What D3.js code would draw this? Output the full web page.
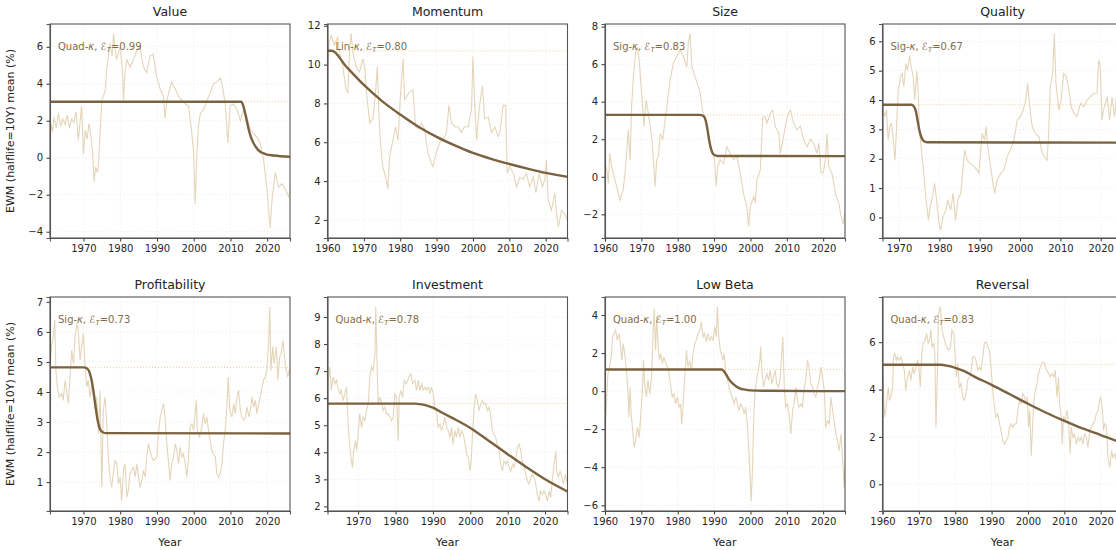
<!DOCTYPE html>
<html>
<head>
<meta charset="utf-8">
<script src="https://cdn.jsdelivr.net/npm/d3@7"></script>
<style>
  body { margin: 0; background: #fff; }
  svg { font-family: "DejaVu Sans", sans-serif; }
  .axis { font-family: "DejaVu Sans", sans-serif; }
  .axis path { stroke: #555; stroke-width: 1.1; }
  .axis line { stroke: #333; }
  .axis text { fill: #262626; font-size: 10px; }
  .grid line { stroke: #ebebeb; stroke-width: 0.7; stroke-dasharray: 1.5,2; }
</style>
</head>
<body>
<div id="chart"></div>
<script>

// ---- data: [year, EWM mean %] ----
const valueRaw = [[1960.9,1.0],[1961.2,1.8],[1961.6,1.4],[1962,2.2],[1962.6,1.6],[1963.2,2.4],[1963.8,1.7],[1964.4,2.1],[1965,1.8],[1965.6,2.3],[1966.2,1.6],[1966.8,2.1],[1967.4,1.9],[1968,2.5],[1968.6,0.95],[1969.5,2.8],[1970,0.2],[1970.5,1.5],[1971,1.0],[1971.5,1.85],[1972,1.2],[1972.5,0.3],[1972.9,-1.3],[1973.3,-0.5],[1973.8,-0.8],[1974.1,-0.3],[1975,3.1],[1975.9,3.6],[1976.3,4.7],[1977.2,6.2],[1977.8,5.5],[1978.2,6.7],[1978.6,5.9],[1979,5.3],[1980,6.0],[1980.6,4.8],[1980.9,3.1],[1981.3,4.6],[1981.8,5.3],[1982.7,4.9],[1983.6,5.3],[1984.5,5.8],[1985.4,6.0],[1986.3,4.9],[1987.2,4.6],[1988.1,5.5],[1989,5.6],[1989.9,4.4],[1990.9,3.7],[1991.8,3.3],[1992.2,2.1],[1992.7,3.1],[1993.6,3.8],[1994,4.1],[1995,3.7],[1995.9,3.3],[1996.8,3.1],[1997.7,2.9],[1998.6,2.8],[1999.5,1.3],[2000,0.2],[2000.4,-2.5],[2000.9,0.4],[2001.3,1.7],[2001.8,2.4],[2002.7,2.6],[2003.6,3.1],[2004.5,3.5],[2005.4,4.0],[2006.3,4.1],[2007.2,4.3],[2007.7,4.0],[2008.6,2.9],[2009.3,0.8],[2009.9,2.8],[2010.8,2.9],[2011.8,2.6],[2012.7,2.0],[2013.6,2.6],[2014.5,2.2],[2015.4,1.5],[2016.3,1.3],[2017.2,1.1],[2018.1,0.8],[2019,-0.1],[2019.9,-1.6],[2020.4,-2.8],[2020.8,-3.8],[2021.3,-2.3],[2022.2,-0.8],[2023.1,-1.6],[2024,-1.4],[2024.9,-1.7],[2025.8,-2.1],[2026.2,-1.8]];
const valueFit = [[1960.9,3.03],[2012.9,3.03],[2013.5,2.8],[2014,2.4],[2014.5,1.95],[2015,1.5],[2015.5,1.15],[2016.3,0.78],[2017,0.55],[2018.1,0.32],[2019.5,0.2],[2021.8,0.12],[2026.2,0.05]];

const momentumRaw = [[1960,9.7],[1960.4,11.1],[1961,11.5],[1961.9,11.0],[1962.8,11.4],[1963.3,10.6],[1964.2,9.9],[1965.1,8.7],[1965.6,8.55],[1966,10.6],[1966.5,11.6],[1967,10.6],[1967.9,9.9],[1968.8,9.6],[1969.7,10.3],[1970.2,9.9],[1970.8,8.4],[1971.6,7.0],[1972.5,7.2],[1973.2,8.55],[1973.7,9.9],[1974.1,7.7],[1974.5,6.1],[1975.2,4.75],[1976,4.2],[1976.6,3.6],[1977.1,5.3],[1978,6.1],[1978.7,6.8],[1979.4,6.1],[1980,8.2],[1980.8,10.3],[1981.2,8.2],[1981.9,8.4],[1982.6,8.6],[1983.5,8.7],[1984.2,6.8],[1984.9,6.7],[1985.8,7.0],[1986.7,6.7],[1987.6,5.45],[1988.6,4.9],[1989,4.75],[1989.9,5.45],[1990.9,6.0],[1991.8,6.1],[1992.7,6.5],[1993.4,7.9],[1994.1,7.0],[1995,6.8],[1995.9,6.8],[1996.8,6.5],[1997.7,6.8],[1998.7,6.8],[1999.6,7.7],[2000,10.4],[2000.5,7.9],[2001,6.1],[2001.7,7.7],[2002.6,8.9],[2003.2,7.2],[2004.2,7.3],[2005.1,6.5],[2006,6.8],[2006.9,6.3],[2007.4,6.5],[2008.3,7.9],[2009,7.9],[2009.4,4.4],[2010.1,4.75],[2011.1,4.4],[2012,3.7],[2012.9,4.2],[2013.8,4.1],[2014.7,4.4],[2015.6,3.7],[2016.6,4.2],[2017.3,3.4],[2018.2,4.4],[2019.1,3.7],[2019.8,4.1],[2020.2,5.1],[2020.7,3.0],[2021.6,2.5],[2022.5,3.4],[2023,2.3],[2023.5,1.65],[2024.4,2.5],[2025.3,2.3],[2026,2.0]];
const momentumFit = [[1960,10.71],[1961.2,10.71],[1965,9.93],[1970,8.95],[1975,8.12],[1980,7.43],[1985,6.8],[1990,6.28],[1995,5.84],[2000,5.45],[2005,5.14],[2010,4.88],[2015,4.64],[2020,4.42],[2026,4.22]];

const sizeRaw = [[1960,0.7],[1960.5,0.35],[1960.9,-0.35],[1961.3,1.25],[1961.8,0.55],[1962.8,-0.2],[1963.7,-0.9],[1964.1,-1.25],[1965,-0.7],[1965.5,0.2],[1966,1.4],[1966.4,2.5],[1966.9,0.9],[1967.3,3.7],[1967.8,5.3],[1968.4,6.6],[1968.9,6.9],[1969.4,6.2],[1969.8,5.15],[1970.4,3.7],[1970.7,2.7],[1971.3,4.1],[1971.9,3.4],[1972.4,2.7],[1972.9,2.0],[1973.3,0.9],[1973.8,-0.5],[1974.2,0.9],[1974.7,1.1],[1975.2,2.3],[1975.9,2.0],[1976.5,3.0],[1977,3.7],[1977.9,5.15],[1978.8,6.05],[1979.7,6.4],[1980.7,6.75],[1981.6,6.4],[1982.5,5.85],[1982.9,7.1],[1983.4,7.65],[1983.9,5.85],[1984.5,5.5],[1985.3,5.0],[1986.2,4.45],[1986.8,3.55],[1987.5,3.0],[1988.2,2.5],[1988.9,1.8],[1989.7,1.25],[1990.1,0.9],[1990.6,-0.5],[1991,0.55],[1991.7,0.9],[1992.6,0.7],[1993.5,1.6],[1994.4,1.25],[1995.4,0.9],[1996.3,1.1],[1997.2,0.2],[1998.1,-0.9],[1999,-1.6],[1999.5,-2.65],[1999.9,-1.6],[2000.9,-1.05],[2001.3,-1.4],[2001.8,-0.15],[2002.7,0.35],[2003.4,3.2],[2004.1,3.2],[2004.5,2.85],[2005.5,3.4],[2006.1,3.55],[2006.8,2.7],[2007.8,2.3],[2008.2,1.25],[2009.1,2.15],[2009.9,3.0],[2010.5,3.4],[2011,3.55],[2011.9,2.85],[2012.8,2.5],[2013.7,2.7],[2014.6,2.0],[2015.6,1.6],[2016.5,2.0],[2017.4,1.8],[2018.3,1.25],[2018.8,1.8],[2019.4,0.2],[2020,0.2],[2020.6,0.9],[2021.1,2.3],[2021.5,0.55],[2022.4,0.2],[2023.4,-0.9],[2024.3,-1.4],[2024.9,-2.1],[2025.5,-2.5],[2026,-1.95]];
const sizeFit = [[1960,3.3],[1986,3.3],[1987,3.25],[1987.7,3.0],[1988.2,2.5],[1988.6,2.0],[1989,1.6],[1989.5,1.3],[1990,1.17],[1991,1.11],[2026,1.1]];

const qualityRaw = [[1965.9,3.77],[1966.4,3.43],[1966.9,3.66],[1967.3,2.64],[1967.7,3.1],[1968.1,3.2],[1968.5,2.75],[1969,1.95],[1969.4,3.1],[1969.8,4.34],[1970.4,4.8],[1970.8,4.9],[1971.2,4.45],[1971.7,5.25],[1972.1,5.0],[1972.6,5.5],[1973.1,5.1],[1973.5,4.8],[1973.9,4.0],[1974.4,5.0],[1974.7,4.45],[1975.1,2.86],[1975.5,2.4],[1976,1.73],[1976.4,1.05],[1976.8,0.48],[1977.3,-0.1],[1977.7,0.36],[1978.3,0.7],[1978.8,1.16],[1979.3,0.6],[1979.9,-0.2],[1980.3,-0.43],[1980.9,0.02],[1981.6,0.25],[1982.1,0.6],[1982.8,0.25],[1983.4,0.82],[1984,-0.1],[1984.6,0.6],[1985.3,0.82],[1985.9,1.73],[1986.3,2.3],[1986.9,1.95],[1987.7,1.84],[1988.6,1.73],[1989.4,1.61],[1989.8,1.5],[1990.6,2.86],[1991.2,2.64],[1991.6,3.1],[1992,2.41],[1992.7,1.73],[1993.4,1.05],[1993.7,0.82],[1994.3,1.27],[1995.2,1.5],[1996,1.61],[1996.8,2.07],[1997.6,2.3],[1998.5,2.64],[1999.3,3.32],[2000.1,3.43],[2000.8,3.66],[2001.4,4.0],[2001.9,4.57],[2002.4,3.77],[2003,3.1],[2003.8,2.86],[2004.7,2.75],[2005.5,2.18],[2006.1,2.07],[2006.7,1.95],[2007.1,2.86],[2007.5,4.45],[2008.1,4.9],[2008.5,6.27],[2008.9,4.57],[2009.6,3.66],[2010.2,4.0],[2010.8,4.9],[2011.5,4.8],[2012.1,4.34],[2012.7,3.77],[2013.3,3.55],[2014.1,3.43],[2015,3.89],[2015.8,3.77],[2016.6,4.0],[2017.4,4.11],[2018.3,4.23],[2019.1,4.23],[2019.5,5.36],[2019.9,5.14],[2020.3,3.32],[2020.7,3.66],[2021.6,4.11],[2022.2,3.32],[2022.8,4.11],[2023.4,3.43],[2023.9,4.11],[2024.5,3.8],[2025.4,3.6]];
const qualityFit = [[1965.9,3.84],[1973,3.84],[1973.7,3.78],[1974.2,3.6],[1974.6,3.3],[1975,3.0],[1975.5,2.75],[1976,2.62],[1977,2.56],[2025.4,2.55]];

const profitabilityRaw = [[1961,5.05],[1961.3,5.5],[1961.8,5.83],[1962.2,6.4],[1962.5,4.72],[1962.9,4.17],[1963.4,3.83],[1964.1,3.94],[1964.5,3.72],[1965,4.39],[1965.4,4.06],[1965.9,3.61],[1966.3,4.39],[1966.8,5.39],[1967.3,4.94],[1967.7,5.83],[1968.2,6.28],[1968.6,6.06],[1969.1,5.06],[1969.5,5.5],[1970,5.94],[1970.4,4.94],[1970.9,4.17],[1971.3,4.39],[1971.8,3.83],[1972.3,4.28],[1972.7,4.06],[1973.2,3.39],[1973.6,3.83],[1974.1,2.61],[1974.5,4.06],[1975,0.83],[1975.4,3.39],[1975.9,3.83],[1976.3,3.06],[1976.8,1.83],[1977.2,1.17],[1977.7,0.83],[1978.2,1.39],[1978.6,1.72],[1979.1,1.61],[1979.5,0.94],[1980,1.17],[1980.4,0.39],[1980.9,1.39],[1981.3,1.61],[1981.8,0.5],[1982.2,0.72],[1982.7,1.28],[1983.1,1.39],[1983.6,1.5],[1984.1,1.17],[1984.5,1.61],[1985,1.17],[1985.4,0.83],[1985.9,1.06],[1986.3,1.39],[1986.8,1.17],[1987.2,1.83],[1987.7,2.28],[1988.1,2.06],[1988.6,1.83],[1989.1,1.72],[1990,1.83],[1990.4,2.61],[1990.9,3.17],[1991.3,3.39],[1991.8,3.61],[1992.2,3.17],[1992.7,2.28],[1993.1,1.72],[1993.6,1.06],[1994,1.61],[1994.5,1.83],[1995,2.28],[1995.4,2.06],[1995.9,1.61],[1996.3,2.17],[1996.8,1.83],[1997.2,1.94],[1997.7,1.61],[1998.1,1.17],[1998.6,1.83],[1999,2.83],[1999.5,2.94],[2000,2.72],[2000.4,3.28],[2000.7,3.72],[2001,2.72],[2001.6,2.5],[2002.2,2.83],[2002.7,3.28],[2003.1,2.94],[2003.6,3.17],[2004,2.72],[2004.5,2.39],[2004.9,2.06],[2005.4,1.94],[2005.9,1.83],[2006.3,1.28],[2006.8,1.17],[2007.2,1.28],[2007.7,1.61],[2008.1,2.28],[2008.6,2.72],[2009,3.5],[2009.4,4.5],[2009.8,3.39],[2010.4,3.17],[2010.9,3.61],[2011.3,3.28],[2011.8,3.83],[2012.2,4.06],[2012.7,3.39],[2013.1,3.17],[2013.6,3.06],[2014.1,3.17],[2014.5,3.5],[2015,3.17],[2015.4,3.39],[2015.9,3.83],[2016.3,3.5],[2016.8,3.72],[2017.2,3.28],[2017.7,3.61],[2018.1,3.83],[2018.6,4.17],[2019,4.39],[2019.5,4.5],[2019.9,4.72],[2020.4,5.61],[2020.7,6.83],[2021,4.72],[2021.5,5.5],[2021.9,4.94],[2022.5,5.5],[2022.9,4.39],[2023.4,5.17],[2023.8,5.28],[2024.3,5.72],[2024.7,5.17],[2025.2,4.72],[2025.6,4.5],[2026.2,4.83]];
const profitabilityFit = [[1960.9,4.82],[1970,4.82],[1971,4.78],[1971.8,4.6],[1972.5,4.2],[1973.2,3.6],[1973.8,3.1],[1974.4,2.8],[1975,2.68],[1976,2.63],[2026.2,2.62]];

const investmentRaw = [[1961.8,4.92],[1962,6.66],[1962.4,7.15],[1962.8,6.29],[1963.3,6.78],[1963.8,6.53],[1964.2,6.66],[1964.6,6.41],[1965.1,6.16],[1965.5,6.29],[1966,5.91],[1966.4,6.16],[1966.9,6.41],[1967.3,5.05],[1967.8,4.18],[1968.2,3.68],[1968.5,3.44],[1968.8,4.06],[1969.3,4.43],[1969.6,4.06],[1970,4.68],[1970.4,5.42],[1970.9,4.92],[1971.3,5.3],[1971.8,5.17],[1972.2,5.54],[1972.7,5.79],[1973.1,6.78],[1973.6,7.15],[1974,7.03],[1974.5,7.65],[1974.7,9.38],[1975.1,7.03],[1975.4,5.79],[1975.8,6.04],[1976.3,5.79],[1976.7,5.54],[1977.1,5.67],[1977.6,5.42],[1978,5.42],[1978.5,5.3],[1978.9,5.17],[1979.4,5.3],[1979.8,6.16],[1980.3,6.04],[1980.7,4.43],[1981,6.04],[1981.4,6.29],[1981.9,6.04],[1982.3,6.66],[1982.9,6.53],[1983.6,6.78],[1984.1,6.91],[1984.6,6.53],[1985.2,6.66],[1985.6,6.29],[1986.1,6.66],[1986.5,6.29],[1987,6.53],[1987.4,6.29],[1987.9,6.41],[1988.3,6.29],[1988.8,6.41],[1989.2,6.16],[1989.6,6.41],[1990.1,6.16],[1990.5,5.67],[1991,5.42],[1991.4,4.92],[1991.9,5.05],[1992.3,4.8],[1992.8,5.05],[1993.2,5.3],[1993.7,4.92],[1994.1,4.8],[1994.6,4.55],[1995,4.92],[1995.4,4.3],[1995.9,4.8],[1996.3,4.55],[1996.8,4.92],[1997.2,4.55],[1997.7,4.8],[1998.1,4.68],[1998.6,4.3],[1999,3.93],[1999.5,3.81],[1999.9,3.31],[2000.2,3.56],[2000.6,4.68],[2001.1,5.79],[2001.4,6.16],[2001.9,5.91],[2002.3,5.54],[2002.8,5.79],[2003.2,5.91],[2003.7,5.79],[2004.1,5.79],[2004.6,5.54],[2005,5.67],[2005.4,5.42],[2005.9,4.8],[2006.3,4.68],[2006.8,4.55],[2007.2,4.3],[2007.7,4.06],[2008.1,3.56],[2008.6,3.31],[2009,3.68],[2009.5,3.56],[2009.9,3.68],[2010.4,3.44],[2010.8,3.31],[2011.3,3.56],[2011.7,3.44],[2012.1,3.68],[2012.6,4.18],[2013,4.3],[2013.5,4.06],[2013.9,3.68],[2014.4,3.44],[2014.8,3.19],[2015.3,2.94],[2015.7,2.82],[2016.2,3.06],[2016.6,3.19],[2017.1,3.06],[2017.5,2.82],[2017.9,2.44],[2018.4,2.2],[2018.8,2.57],[2019.3,2.44],[2019.7,2.57],[2020.2,2.44],[2020.6,2.2],[2021.1,2.57],[2021.5,2.32],[2022,3.06],[2022.4,3.56],[2022.9,4.06],[2023.1,3.31],[2023.6,3.06],[2024,3.31],[2024.5,3.06],[2024.9,2.82],[2025.4,3.19],[2026,2.82]];
const investmentFit = [[1961.8,5.8],[1985,5.8],[1987,5.77],[1989,5.7],[1990,5.65],[1992,5.5],[1995,5.28],[2000,4.9],[2005,4.42],[2010,3.93],[2015,3.45],[2020,3.0],[2026,2.55]];

const lowBetaRaw = [[1960,-2.07],[1960.5,-0.31],[1960.8,0.92],[1961.3,1.27],[1961.7,1.8],[1962.1,2.86],[1962.5,3.03],[1962.9,3.21],[1963.4,2.68],[1963.9,3.03],[1964.3,2.33],[1964.6,1.62],[1965,2.5],[1965.4,1.98],[1965.9,1.1],[1966.3,0.04],[1966.6,-1.37],[1966.9,0.21],[1967.2,-1.19],[1967.7,-2.25],[1968,-2.95],[1968.4,-2.6],[1968.9,-1.9],[1969.4,-2.43],[1969.8,-1.37],[1970.3,0.04],[1970.6,1.62],[1970.9,0.39],[1971.4,-0.31],[1971.8,0.57],[1972.3,-0.14],[1972.8,0.74],[1973.2,2.86],[1973.5,4.35],[1973.9,2.15],[1974.2,3.91],[1974.6,2.33],[1975,1.62],[1975.3,1.98],[1975.8,1.45],[1976.2,1.8],[1976.7,1.45],[1977.2,1.27],[1977.6,0.92],[1978.1,0.21],[1978.5,-0.31],[1979,-0.14],[1979.4,-0.67],[1979.9,-0.31],[1980.4,-0.84],[1980.8,-0.67],[1981.1,-1.72],[1981.5,-0.67],[1981.9,0.57],[1982.4,2.15],[1982.8,1.27],[1983.3,1.62],[1983.8,1.1],[1984.2,1.98],[1984.7,2.5],[1985.1,2.68],[1985.6,3.03],[1986.1,3.21],[1986.5,3.65],[1987,2.86],[1987.4,3.03],[1987.9,2.59],[1988.3,3.03],[1988.8,2.68],[1989.3,2.86],[1989.7,2.68],[1990.2,3.38],[1990.6,2.86],[1990.9,4.44],[1991.3,2.86],[1991.7,2.15],[1992,1.98],[1992.4,1.62],[1992.8,1.98],[1993.2,0.92],[1993.7,0.57],[1994.1,0.21],[1994.6,-0.14],[1995,-0.31],[1995.5,-0.67],[1996,-0.31],[1996.4,-0.67],[1996.9,-1.02],[1997.3,-0.67],[1997.8,-0.84],[1998.3,-1.19],[1998.7,-0.84],[1999.2,-1.9],[1999.6,-3.31],[1999.9,-4.54],[2000.2,-5.77],[2000.6,-3.83],[2000.8,-2.07],[2001.2,-0.14],[2001.7,0.57],[2002.1,1.1],[2002.6,1.62],[2002.8,2.33],[2003.2,0.92],[2003.6,0.21],[2004,0.57],[2004.5,0.92],[2005,0.57],[2005.4,1.1],[2005.9,0.39],[2006.3,0.74],[2006.8,1.1],[2007.2,0.39],[2007.7,0.21],[2008.2,0.74],[2008.5,1.62],[2008.9,2.86],[2009.3,0.21],[2009.7,-0.84],[2010.2,-0.67],[2010.6,-1.19],[2011.1,-2.25],[2011.6,-1.02],[2012,-0.67],[2012.5,0.21],[2012.9,-0.49],[2013.4,-0.84],[2013.9,-0.67],[2014.3,-0.84],[2014.8,0.21],[2015.2,0.57],[2015.7,1.62],[2016.1,1.27],[2016.6,0.39],[2017.1,0.21],[2017.5,-0.14],[2018,-0.31],[2018.4,0.21],[2018.9,0.57],[2019.4,1.27],[2019.8,0.74],[2020.3,0.04],[2020.7,-1.9],[2021.2,-1.55],[2021.7,-1.72],[2022.1,-0.31],[2022.6,-1.02],[2023,-1.55],[2023.5,-2.25],[2023.9,-2.6],[2024.4,-3.13],[2024.9,-2.25],[2025.3,-3.48],[2025.8,-5.07],[2026,-4.0]];
const lowBetaFit = [[1960,1.14],[1992.1,1.14],[1992.7,1.05],[1993.3,0.88],[1994,0.65],[1995,0.42],[1996,0.26],[1997,0.15],[1998.5,0.08],[2000,0.04],[2005,0.02],[2026,0.0]];

const reversalRaw = [[1960.1,4.81],[1960.4,3.54],[1960.6,2.83],[1960.9,3.11],[1961.2,3.54],[1961.6,4.1],[1961.9,3.54],[1962.3,3.68],[1962.8,4.1],[1963,5.38],[1963.4,5.52],[1963.8,5.24],[1964.1,5.38],[1964.6,5.24],[1965.1,5.38],[1965.5,5.1],[1966,4.81],[1966.4,3.96],[1966.9,4.53],[1967.4,4.81],[1967.8,4.39],[1968.3,4.95],[1968.7,4.67],[1969.2,4.95],[1969.7,5.24],[1970.1,4.81],[1970.4,4.1],[1970.8,5.52],[1971.2,5.94],[1971.7,6.08],[1972.1,6.37],[1972.6,5.94],[1973.1,6.23],[1973.3,6.51],[1973.6,5.8],[1974.1,5.94],[1974.4,5.52],[1974.7,2.41],[1975.1,4.81],[1975.4,7.22],[1975.9,7.5],[1976.4,6.51],[1976.8,6.23],[1977.3,5.94],[1977.7,5.8],[1978.2,5.66],[1978.7,5.8],[1979.1,6.51],[1979.6,6.37],[1980,5.38],[1980.3,4.53],[1980.7,5.1],[1981.1,4.1],[1981.6,4.25],[1982.1,3.68],[1982.5,3.54],[1983,3.82],[1983.4,4.39],[1983.9,4.53],[1984.4,4.81],[1984.8,5.38],[1985.3,5.38],[1985.7,5.24],[1986.2,4.81],[1986.7,4.95],[1987.1,4.81],[1987.6,5.38],[1988,5.94],[1988.5,6.01],[1989,5.8],[1989.4,5.66],[1989.9,4.81],[1990.3,3.96],[1990.8,3.26],[1991.2,2.83],[1991.7,2.97],[1992.2,2.55],[1992.6,2.27],[1993.1,1.84],[1993.5,1.7],[1994,1.84],[1994.5,1.98],[1994.9,2.41],[1995.4,2.55],[1995.8,2.41],[1996.3,2.55],[1996.8,2.55],[1997.2,3.11],[1997.7,3.54],[1998.1,3.4],[1998.6,3.82],[1999.1,3.68],[1999.5,3.4],[1999.8,3.68],[2000.2,2.41],[2000.5,3.11],[2000.9,1.2],[2001.3,2.55],[2001.6,3.4],[2002,3.96],[2002.5,4.25],[2002.9,4.67],[2003.4,4.95],[2003.8,5.1],[2004.3,5.17],[2004.8,4.95],[2005.2,4.81],[2005.7,4.67],[2006.1,4.53],[2006.6,4.67],[2007.1,4.53],[2007.5,4.81],[2008,3.68],[2008.4,4.53],[2008.7,3.4],[2009.2,2.83],[2009.4,1.7],[2009.8,2.83],[2010.3,2.69],[2010.7,3.11],[2011.2,2.55],[2011.6,1.28],[2011.9,2.41],[2012.4,1.98],[2012.8,2.12],[2013.3,1.7],[2013.8,1.98],[2014.2,1.84],[2014.7,1.98],[2015.1,1.7],[2015.6,2.12],[2016.1,1.98],[2016.5,1.56],[2017,2.27],[2017.4,2.41],[2017.9,2.55],[2018.4,2.69],[2018.8,2.97],[2019.3,3.11],[2019.7,3.54],[2020,3.68],[2020.4,3.26],[2020.8,2.27],[2021.1,2.55],[2021.6,2.41],[2022,1.13],[2022.5,0.71],[2023,1.42],[2023.4,1.13],[2023.9,1.28],[2024.3,0.99],[2024.6,0.57],[2025,-0.7],[2025.4,0.2]];
const reversalFit = [[1960,5.05],[1976,5.05],[1978,5.0],[1980,4.92],[1982.5,4.78],[1985,4.57],[1990,4.2],[1995,3.8],[2000,3.4],[2005,3.02],[2010,2.68],[2015,2.36],[2020,2.08],[2024.6,1.82],[2026,1.75]];

// panel setup: title, model label, explained share, data, axis ranges
const panels = [
  {title: "Value",         model: "Quad", share: "0.99", raw: valueRaw,         fit: valueFit,         xd: [1960.9, 2026.2], yd: [-4.34, 7.23], yt: [-4, 6, 2]},
  {title: "Momentum",      model: "Lin",  share: "0.80", raw: momentumRaw,      fit: momentumFit,      xd: [1960, 2026],     yd: [1.07, 12.09], yt: [2, 12, 2]},
  {title: "Size",          model: "Sig",  share: "0.83", raw: sizeRaw,          fit: sizeFit,          xd: [1960, 2026],     yd: [-3.26, 8.14], yt: [-2, 8, 2]},
  {title: "Quality",       model: "Sig",  share: "0.67", raw: qualityRaw,       fit: qualityFit,       xd: [1965.9, 2025.4], yd: [-0.70, 6.59], yt: [0, 6, 1]},
  {title: "Profitability", model: "Sig",  share: "0.73", raw: profitabilityRaw, fit: profitabilityFit, xd: [1960.9, 2026.2], yd: [0.04, 7.16], yt: [1, 7, 1]},
  {title: "Investment",    model: "Quad", share: "0.78", raw: investmentRaw,    fit: investmentFit,    xd: [1961.8, 2026],   yd: [1.83, 9.74], yt: [2, 9, 1]},
  {title: "Low Beta",      model: "Quad", share: "1.00", raw: lowBetaRaw,       fit: lowBetaFit,       xd: [1960, 2026],     yd: [-6.30, 4.95], yt: [-6, 4, 2]},
  {title: "Reversal",      model: "Quad", share: "0.83", raw: reversalRaw,      fit: reversalFit,      xd: [1960, 2026],     yd: [-1.13, 7.91], yt: [0, 6, 2]}
];

const W = 1116, H = 550;
const colLeft = [50, 327.5, 605, 882.5];
const rowTop = [24, 297];
const pw = 240, ph = 214;

const rawColor = "#e4d5b9";
const fitColor = "#7a6240";
const refColor = "#e9c994";
const noteColor = "#846c47";

const svg = d3.select("#chart").append("svg")
    .attr("width", W)
    .attr("height", H);

panels.forEach(function(p, i) {
    let col = i % 4, row = Math.floor(i / 4);
    let g = svg.append("g")
        .attr("transform", "translate(" + colLeft[col] + "," + rowTop[row] + ")");

    let x = d3.scaleLinear().domain(p.xd).range([0, pw]);
    let y = d3.scaleLinear().domain(p.yd).range([ph, 0]);

    let xTicks = d3.range(1960, 2030, 10).filter(t => t >= p.xd[0] && t <= p.xd[1]);
    let yTicks = d3.range(p.yt[0], p.yt[1] + 0.001, p.yt[2]);

    // grid
    g.append("g").attr("class", "grid")
        .selectAll("line.gx").data(xTicks).enter().append("line")
        .attr("x1", d => x(d)).attr("x2", d => x(d))
        .attr("y1", 0).attr("y2", ph);
    g.append("g").attr("class", "grid")
        .selectAll("line.gy").data(yTicks).enter().append("line")
        .attr("x1", 0).attr("x2", pw)
        .attr("y1", d => y(d)).attr("y2", d => y(d));

    let clipId = "clip" + i;
    g.append("clipPath").attr("id", clipId)
        .append("rect").attr("width", pw).attr("height", ph);

    let plot = g.append("g").attr("clip-path", "url(#" + clipId + ")");

    let line = d3.line()
        .x(d => x(d[0]))
        .y(d => y(d[1]));

    plot.append("path")
        .datum(p.raw)
        .attr("d", line)
        .attr("fill", "none")
        .attr("stroke", rawColor)
        .attr("stroke-width", 1.1);

    // initial level reference
    plot.append("line")
        .attr("x1", 0).attr("x2", pw)
        .attr("y1", y(p.fit[0][1])).attr("y2", y(p.fit[0][1]))
        .attr("stroke", refColor)
        .attr("stroke-width", 0.9)
        .attr("stroke-dasharray", "1,2");

    plot.append("path")
        .datum(p.fit)
        .attr("d", line.curve(d3.curveMonotoneX))
        .attr("fill", "none")
        .attr("stroke", fitColor)
        .attr("stroke-width", 2.4);

    // axes
    g.append("g").attr("class", "axis")
        .attr("transform", "translate(0," + ph + ")")
        .call(d3.axisBottom(x).tickValues(xTicks).tickFormat(d3.format("d")).tickSize(3.5).tickPadding(3.5));
    g.append("g").attr("class", "axis")
        .call(d3.axisLeft(y).tickValues(yTicks).tickFormat(d3.format("d")).tickSize(3.5).tickPadding(3.5));

    // frame (top + right)
    g.append("rect")
        .attr("width", pw).attr("height", ph)
        .attr("fill", "none")
        .attr("stroke", "#555")
        .attr("stroke-width", 1.1);

    g.append("text")
        .attr("x", pw / 2).attr("y", -8)
        .attr("text-anchor", "middle")
        .attr("font-size", "12.5px")
        .attr("fill", "#222")
        .text(p.title);

    let note = g.append("text")
        .attr("x", 8).attr("y", 25.5)
        .attr("font-size", "10px")
        .attr("fill", noteColor);
    note.append("tspan").text(p.model + "-");
    note.append("tspan").attr("font-style", "italic").text("κ");
    note.append("tspan").text(", ");
    note.append("tspan").attr("font-style", "italic").text("ℰ");
    note.append("tspan").attr("font-style", "italic").attr("font-size", "7px").attr("dy", 2.5).text("T");
    note.append("tspan").attr("dy", -2.5).text("=" + p.share);

    if (col === 0) {
        g.append("text")
            .attr("transform", "translate(-36," + (ph / 2) + ") rotate(-90)")
            .attr("text-anchor", "middle")
            .attr("font-size", "11px")
            .attr("fill", "#222")
            .text("EWM (halflife=10Y) mean (%)");
    }
    if (row === 1) {
        g.append("text")
            .attr("x", pw / 2).attr("y", ph + 35)
            .attr("text-anchor", "middle")
            .attr("font-size", "11px")
            .attr("fill", "#222")
            .text("Year");
    }
});

</script>
</body>
</html>
